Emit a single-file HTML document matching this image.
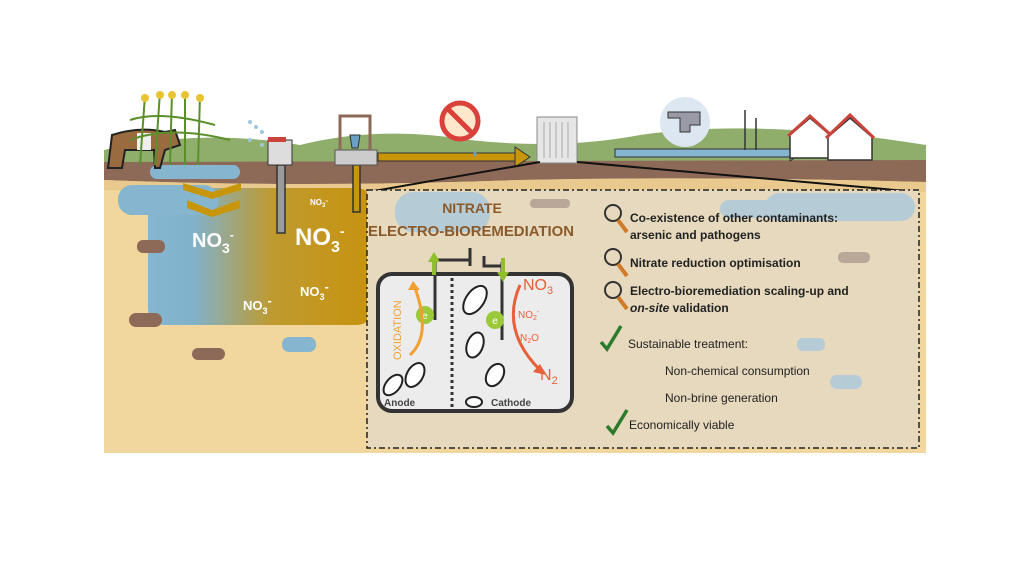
<!DOCTYPE html>
<html><head><meta charset="utf-8"><style>
html,body{margin:0;padding:0;background:#fff}
svg{display:block}
text{font-family:"Liberation Sans",sans-serif}
</style></head><body>
<svg width="1024" height="563" viewBox="0 0 1024 563" xmlns="http://www.w3.org/2000/svg">
<defs>
<linearGradient id="gw" x1="0" x2="1" y1="0" y2="0">
<stop offset="0" stop-color="#86b6cf"/><stop offset="0.2" stop-color="#80b2cc"/><stop offset="0.55" stop-color="#bf9a30"/><stop offset="1" stop-color="#c8930e"/></linearGradient>
</defs>
<rect x="104" y="160" width="822" height="293" fill="#f1d69e"/>
<path d="M104 150 Q200 128 300 145 Q380 125 470 140 Q560 150 640 135 Q760 118 926 145 L926 170 L104 170Z" fill="#8fae6c"/>
<path d="M104 162 L926 160 L926 182 Q700 176 520 180 Q300 188 104 180Z" fill="#8d6a57"/>
<path d="M104 180 Q300 188 520 180 Q700 176 926 182 L926 192 Q700 186 520 193 Q300 198 104 190Z" fill="#e9c98e"/>
<rect x="148" y="188" width="225" height="137" rx="16" fill="url(#gw)"/>
<rect x="118" y="185" width="100" height="30" rx="14" fill="#86b6cf"/>
<rect x="150" y="165" width="90" height="14" rx="7" fill="#86b6cf"/>
<path d="M183 183 L212 192 L241 183 L241 190 L212 199 L183 190Z" fill="#c8960a"/>
<path d="M187 200 L212 210 L240 200 L240 208 L212 217 L187 208Z" fill="#c8960a"/>
<text x="192" y="247" fill="#fff" font-size="20" font-weight="bold">NO<tspan font-size="14" dy="6">3</tspan><tspan font-size="12" dy="-14">-</tspan></text>
<text x="295" y="245" fill="#fff" font-size="24" font-weight="bold">NO<tspan font-size="16" dy="7">3</tspan><tspan font-size="14" dy="-16">-</tspan></text>
<text x="310" y="205" fill="#fff" font-size="8" font-weight="bold">NO<tspan font-size="6" dy="2">3</tspan><tspan dy="-4">-</tspan></text>
<text x="300" y="296" fill="#fff" font-size="13" font-weight="bold">NO<tspan font-size="9" dy="4">3</tspan><tspan dy="-9">-</tspan></text>
<text x="243" y="310" fill="#fff" font-size="13" font-weight="bold">NO<tspan font-size="9" dy="4">3</tspan><tspan dy="-9">-</tspan></text>
<rect x="137" y="240" width="28" height="13" rx="6" fill="#8d6a57"/>
<rect x="129" y="313" width="33" height="14" rx="7" fill="#8d6a57"/>
<rect x="192" y="348" width="33" height="12" rx="6" fill="#8d6a57"/>
<rect x="282" y="337" width="34" height="15" rx="7" fill="#86b6cf"/>
<rect x="277" y="165" width="8" height="68" fill="#9b9b9b" stroke="#333" stroke-width="1.5"/>
<rect x="353" y="165" width="7" height="47" fill="#c8960a" stroke="#333" stroke-width="1.5"/>
<path d="M108 168 L112 135 Q140 126 165 132 L175 130 L180 145 L165 150 L160 168 L155 168 L154 150 L125 150 L122 168Z" fill="#9a6b3e" stroke="#222" stroke-width="2"/>
<rect x="137" y="133" width="14" height="17" fill="#eee"/>
<g stroke="#5a8f2a" stroke-width="2" fill="none">
<path d="M140 165 L145 95"/><path d="M155 165 L160 92"/><path d="M170 165 L172 92"/><path d="M185 165 L185 92"/><path d="M198 165 L200 95"/>
<path d="M130 120 Q160 110 215 125"/><path d="M130 140 Q170 125 230 140"/></g>
<g fill="#e9c432"><circle cx="145" cy="98" r="4"/><circle cx="160" cy="95" r="4"/><circle cx="172" cy="95" r="4"/><circle cx="185" cy="95" r="4"/><circle cx="200" cy="98" r="4"/></g>
<g fill="#9cc6de"><circle cx="250" cy="122" r="2"/><circle cx="256" cy="127" r="2"/><circle cx="262" cy="132" r="2"/><circle cx="250" cy="140" r="2"/><circle cx="262" cy="145" r="2"/></g>
<rect x="268" y="140" width="24" height="25" fill="#ddd" stroke="#333"/>
<rect x="268" y="137" width="18" height="5" fill="#c9443a"/>
<rect x="335" y="150" width="42" height="15" fill="#ccc" stroke="#555"/>
<path d="M340 150 L340 116 L370 116 L370 150" stroke="#8d6a57" stroke-width="3" fill="none"/>
<path d="M350 135 L360 135 L358 148 L352 148Z" fill="#6aa0c6" stroke="#333"/>
<rect x="378" y="153" width="138" height="8" fill="#c8960a" stroke="#333"/>
<path d="M515 147 L530 157 L515 167Z" fill="#c8960a" stroke="#333"/>
<circle cx="460" cy="121" r="20" fill="#fde8cc"/>
<circle cx="460" cy="121" r="18" fill="none" stroke="#d9413a" stroke-width="5"/>
<path d="M447 108 L473 134" stroke="#d9413a" stroke-width="5"/>
<path d="M475 150 q-3 5 0 7 q3 -2 0 -7" fill="#6aa0c6"/>
<rect x="537" y="117" width="40" height="46" fill="#e6e6e6" stroke="#888"/>
<g stroke="#aaa"><path d="M544 122 V158M550 122 V158M556 122 V158M562 122 V158M568 122 V158"/></g>
<rect x="615" y="149" width="175" height="8" fill="#86b6cf" stroke="#333"/>
<path d="M790 145 L802 153 L790 161Z" fill="#86b6cf" stroke="#333"/>
<circle cx="685" cy="122" r="25" fill="#dce7f2"/>
<path d="M668 112 H700 V125 H690 V132 H680 V118 H668Z" fill="#9a9aa6" stroke="#333"/>
<g stroke="#333" stroke-width="1.5"><path d="M745 150 V110 M756 150 V118"/></g>
<g stroke="#333" stroke-width="1.5">
<path d="M790 135 L810 118 L830 135 V158 H790Z" fill="#fff"/><path d="M788 136 L810 116 L832 136" stroke="#c9443a" stroke-width="3" fill="none"/>
<path d="M828 137 L850 118 L872 137 V160 H828Z" fill="#fff"/><path d="M826 138 L850 115 L874 138" stroke="#c9443a" stroke-width="3" fill="none"/>
</g>
<path d="M540 162 L368 192 M577 162 L918 192" stroke="#111" stroke-width="2"/>
<rect x="367" y="190" width="552" height="258" fill="#e6d9bd" stroke="#222" stroke-width="1.5" stroke-dasharray="6 3 2 3"/>
<g fill="#a9c8dc" opacity="0.8"><rect x="395" y="192" width="95" height="40" rx="18"/><rect x="720" y="200" width="80" height="18" rx="9"/><rect x="765" y="193" width="150" height="28" rx="14"/><rect x="797" y="338" width="28" height="13" rx="6"/><rect x="830" y="375" width="32" height="14" rx="7"/></g>
<g fill="#b9a89a"><rect x="530" y="199" width="40" height="9" rx="4"/><rect x="838" y="252" width="32" height="11" rx="5"/></g>
<text x="472" y="213" fill="#8b5a2b" font-size="14" font-weight="bold" text-anchor="middle">NITRATE</text>
<text x="471" y="236" fill="#8b5a2b" font-size="15" font-weight="bold" text-anchor="middle" textLength="206" lengthAdjust="spacingAndGlyphs">ELECTRO-BIOREMEDIATION</text>
<rect x="378" y="274" width="194" height="137" rx="14" fill="#ececec" stroke="#333" stroke-width="4"/>
<path d="M452 278 V410" stroke="#333" stroke-width="3" stroke-dasharray="3 3"/>
<path d="M435 262 V320 M502 262 V340" stroke="#333" stroke-width="3"/>
<path d="M435 260 H470 V248 M470 256 V266 M484 256 V266 H502 V262" stroke="#333" stroke-width="3" fill="none"/>
<path d="M434 275 V258 M503 258 V275" stroke="#8fbf2a" stroke-width="4"/>
<path d="M428 262 L434 252 L440 262Z M497 272 L503 282 L509 272Z" fill="#8fbf2a"/>
<circle cx="425" cy="315" r="9" fill="#9cc93a"/><text x="425" y="319" fill="#fff" font-size="10" text-anchor="middle">e</text>
<circle cx="495" cy="320" r="9" fill="#9cc93a"/><text x="495" y="324" fill="#fff" font-size="10" text-anchor="middle">e</text>
<path d="M410 355 Q432 335 415 288" stroke="#f0a030" stroke-width="3" fill="none"/>
<path d="M408 290 L413 281 L420 290Z" fill="#f0a030"/>
<text transform="translate(401 360) rotate(-90)" fill="#f0a030" font-size="11">OXIDATION</text>
<path d="M520 285 Q500 330 540 370" stroke="#e8603a" stroke-width="3" fill="none"/>
<path d="M533 372 L546 375 L540 364Z" fill="#e8603a"/>
<text x="523" y="290" fill="#e8603a" font-size="16">NO<tspan font-size="11" dy="4">3</tspan></text>
<text x="518" y="318" fill="#e8603a" font-size="10">NO<tspan font-size="7" dy="2">2</tspan><tspan font-size="7" dy="-6">-</tspan></text>
<text x="520" y="341" fill="#e8603a" font-size="10">N<tspan font-size="7" dy="2">2</tspan><tspan dy="-2">O</tspan></text>
<text x="540" y="380" fill="#e8603a" font-size="16">N<tspan font-size="11" dy="4">2</tspan></text>
<g fill="#fff" stroke="#222" stroke-width="2">
<ellipse cx="475" cy="300" rx="9" ry="16" transform="rotate(35 475 300)"/>
<ellipse cx="475" cy="345" rx="8" ry="13" transform="rotate(20 475 345)"/>
<ellipse cx="495" cy="375" rx="8" ry="12" transform="rotate(30 495 375)"/>
<ellipse cx="415" cy="375" rx="8" ry="13" transform="rotate(30 415 375)"/>
<ellipse cx="393" cy="385" rx="7" ry="12" transform="rotate(40 393 385)"/>
<ellipse cx="474" cy="402" rx="8" ry="5"/></g>
<text x="384" y="406" fill="#444" font-size="10" font-weight="bold">Anode</text>
<text x="491" y="406" fill="#444" font-size="10" font-weight="bold">Cathode</text>
<g fill="none" stroke-width="2">
<circle cx="613" cy="213" r="8" stroke="#333"/><path d="M618 220 L627 232" stroke="#d07a2a" stroke-width="4"/>
<circle cx="613" cy="257" r="8" stroke="#333"/><path d="M618 264 L627 276" stroke="#d07a2a" stroke-width="4"/>
<circle cx="613" cy="290" r="8" stroke="#333"/><path d="M618 297 L627 309" stroke="#d07a2a" stroke-width="4"/>
<path d="M601 342 L607 349 L621 326" stroke="#2d7a2d" stroke-width="3.5"/>
<path d="M607 426 L613 433 L627 410" stroke="#2d7a2d" stroke-width="3.5"/></g>
<g font-size="12" fill="#222">
<text x="630" y="222" font-weight="bold">Co-existence of other contaminants:</text>
<text x="630" y="239" font-weight="bold">arsenic and pathogens</text>
<text x="630" y="267" font-weight="bold">Nitrate reduction optimisation</text>
<text x="630" y="295" font-weight="bold">Electro-bioremediation scaling-up and</text>
<text x="630" y="312" font-weight="bold"><tspan font-style="italic">on-site</tspan> validation</text>
<text x="628" y="348">Sustainable treatment:</text>
<text x="665" y="375">Non-chemical consumption</text>
<text x="665" y="402">Non-brine generation</text>
<text x="629" y="429">Economically viable</text>
</g>
</svg>
</body></html>
